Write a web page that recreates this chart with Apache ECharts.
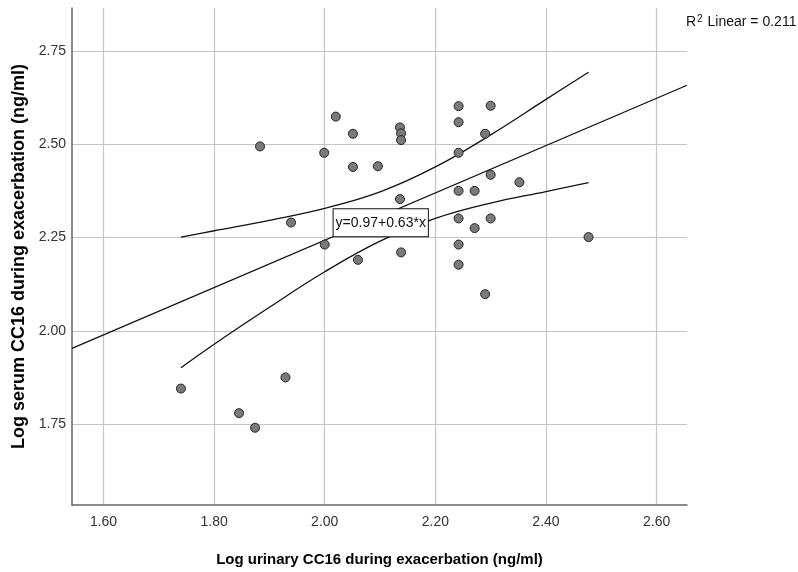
<!DOCTYPE html>
<html>
<head>
<meta charset="utf-8">
<script src="https://cdn.jsdelivr.net/npm/echarts@6/dist/echarts.min.js"></script>
<style>
html, body { margin: 0; padding: 0; background: #fff; }
#main { width: 798px; height: 572px; }
</style>
</head>
<body>
<div id="main"></div>
<script>
// points (log urinary vs log serum CC16)
const urinaryLog = [2.020, 2.051, 2.136, 2.138, 2.138, 1.883, 1.999, 2.051, 2.096, 2.136,
    1.939, 2.000, 2.060, 2.138, 2.242, 2.300, 2.242, 2.290, 2.242, 2.300,
    2.352, 2.242, 2.271, 2.242, 2.300, 2.271, 2.477, 2.242, 2.242, 2.290,
    1.740, 1.929, 1.845, 1.874];
const serumLog = [2.574, 2.528, 2.545, 2.529, 2.511, 2.494, 2.477, 2.439, 2.441, 2.353,
    2.290, 2.231, 2.190, 2.210, 2.602, 2.603, 2.559, 2.528, 2.477, 2.418,
    2.398, 2.375, 2.375, 2.301, 2.301, 2.275, 2.251, 2.231, 2.177, 2.098,
    1.845, 1.875, 1.779, 1.740];

// fit line ends, and the mean confidence curves
const fitX = [1.543, 2.655];
const fitY = [1.953, 2.658];
const bandX = [1.74, 1.80, 1.90, 2.00, 2.10, 2.20, 2.30, 2.40, 2.477];
const bandUpper = [2.251, 2.268, 2.296, 2.328, 2.372, 2.439, 2.525, 2.620, 2.693];
const bandLower = [1.901, 1.964, 2.063, 2.158, 2.240, 2.301, 2.342, 2.373, 2.397];

const xTicks = [1.6, 1.8, 2.0, 2.2, 2.4, 2.6];
const yTicks = [1.75, 2.0, 2.25, 2.5, 2.75];
const eqText = 'y=0.97+0.63*x';
const eqAnchor = [2.016, 2.253];
const r2Text = '0.211';

const sans = '"Liberation Sans", Arial, sans-serif';

const zip = (a, b) => a.map((v, i) => [v, b[i]]);

let myChart = echarts.init(document.getElementById('main'));

myChart.setOption({
    animation: false,
    grid: { left: 72, right: 111, top: 8, bottom: 67 },
    xAxis: {
        type: 'value',
        min: 1.543,
        max: 2.655,
        name: 'Log urinary CC16 during exacerbation (ng/ml)',
        nameLocation: 'middle',
        nameGap: 47,
        nameTextStyle: { fontFamily: sans, fontWeight: 'bold', fontSize: 15, color: '#000' },
        axisLine: { lineStyle: { color: '#666', width: 1.5 } },
        axisTick: { show: false, customValues: xTicks },
        axisLabel: {
            customValues: xTicks,
            formatter: v => v.toFixed(2),
            fontFamily: sans, fontSize: 14, color: '#333', margin: 10
        },
        splitLine: { show: true, lineStyle: { color: '#c4c4c4', width: 1.2 } }
    },
    yAxis: {
        type: 'value',
        min: 1.533,
        max: 2.865,
        name: 'Log serum CC16 during exacerbation (ng/ml)',
        nameLocation: 'middle',
        nameGap: 43,
        nameTextStyle: { fontFamily: sans, fontWeight: 'bold', fontSize: 18, color: '#000' },
        axisLine: { show: true, lineStyle: { color: '#666', width: 1.5 } },
        axisTick: { show: false, customValues: yTicks },
        axisLabel: {
            customValues: yTicks,
            formatter: v => v.toFixed(2),
            fontFamily: sans, fontSize: 14, color: '#333', margin: 6
        },
        splitLine: { show: true, lineStyle: { color: '#c4c4c4', width: 1.2 } }
    },
    series: [
        {
            type: 'line',
            data: zip(fitX, fitY),
            showSymbol: false,
            lineStyle: { color: '#111', width: 1.3 },
            z: 3
        },
        {
            type: 'line',
            data: zip(bandX, bandUpper),
            smooth: 0.4,
            showSymbol: false,
            lineStyle: { color: '#111', width: 1.3 },
            z: 3
        },
        {
            type: 'line',
            data: zip(bandX, bandLower),
            smooth: 0.4,
            showSymbol: false,
            lineStyle: { color: '#111', width: 1.3 },
            z: 3
        },
        {
            type: 'scatter',
            data: zip(urinaryLog, serumLog),
            symbolSize: 9,
            itemStyle: { color: '#7a7a7a', borderColor: '#222', borderWidth: 1, opacity: 1 },
            z: 4
        }
    ]
});

// equation box sits on the fit line, R2 note top right
const eqPos = myChart.convertToPixel({ gridIndex: 0 }, eqAnchor);
myChart.setOption({
    graphic: [
        {
            type: 'text',
            x: eqPos[0],
            y: eqPos[1],
            z: 10,
            style: {
                text: eqText,
                font: '14px ' + sans,
                fill: '#111',
                align: 'left',
                verticalAlign: 'bottom',
                backgroundColor: '#fff',
                borderColor: '#111',
                borderWidth: 1,
                padding: [7, 2, 6, 2]
            }
        },
        {
            type: 'text',
            left: 686,
            top: 14,
            style: {
                text: '{r|R}{s|2}{r| Linear = ' + r2Text + '}',
                rich: {
                    r: { font: '14px ' + sans, fill: '#111' },
                    s: { font: '10px ' + sans, fill: '#111', padding: [0, 1, 7, 1] }
                }
            }
        }
    ]
});
</script>
</body>
</html>
